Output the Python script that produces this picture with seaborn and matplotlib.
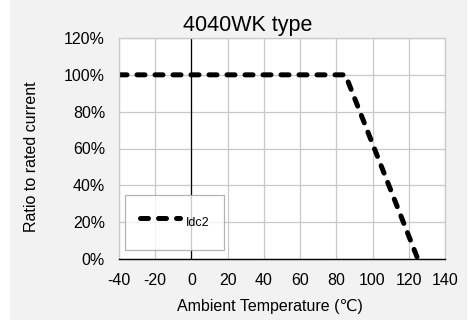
import matplotlib
matplotlib.use("Agg")
import matplotlib.pyplot as plt
import seaborn as sns
import pandas as pd
from matplotlib.patches import Rectangle
from matplotlib.ticker import PercentFormatter

temps = [-40, 85, 125]
ratios = [1.0, 1.0, 0.0]
series = ["Idc2", "Idc2", "Idc2"]
xticks = [-40, -20, 0, 20, 40, 60, 80, 100, 120, 140]
yticks = [0, 0.2, 0.4, 0.6, 0.8, 1.0, 1.2]

sns.set_theme(style="white")
plt.rcParams['font.family'] = ['Liberation Sans', 'DejaVu Sans']
plt.rcParams['axes.unicode_minus'] = False
plt.rcParams['text.color'] = 'black'
plt.rcParams['axes.labelcolor'] = 'black'

df = pd.DataFrame({"temp": temps, "ratio": ratios, "series": series})

W, H = 476, 320
fig = plt.figure(figsize=(W/100, H/100), dpi=100, facecolor="white")
fig.patches.append(Rectangle((10/W, 0), 457/W, 1, transform=fig.transFigure,
                             facecolor="#f2f2f2", edgecolor="none", zorder=-10))
ax_l, ax_r, ax_t, ax_b = 119, 445, 38, 259
ax = fig.add_axes([ax_l/W, 1 - ax_b/H, (ax_r-ax_l)/W, (ax_b-ax_t)/H])
ax.set_facecolor("white")

sns.lineplot(data=df, x="temp", y="ratio", hue="series", palette=["black"],
             ax=ax, linewidth=3.6, legend=True)
DASH = (1.6, 2.0)
line = ax.get_lines()[0]
line.set_dashes(DASH)
line.set_dash_capstyle("round")

ax.set_xlim(-40, 140)
ax.set_ylim(0, 1.2)
ax.set_xticks(xticks)
ax.set_yticks(yticks)
ax.yaxis.set_major_formatter(PercentFormatter(1.0, decimals=0))
ax.grid(True, color="#c8c8c8", linewidth=0.9)
ax.set_axisbelow(True)
ax.axvline(0, color="black", linewidth=0.9, zorder=1)
for s in ["top", "right", "left"]:
    ax.spines[s].set_color("#c8c8c8")
    ax.spines[s].set_linewidth(0.9)
ax.spines["bottom"].set_color("black")
ax.spines["bottom"].set_linewidth(1.0)
ax.tick_params(axis="both", labelsize=11.5, length=0, pad=10, colors="black")

fig.text(248/W, 1 - 31/H, "4040WK type", fontsize=15.5, ha="center", va="baseline")
ax.set_xlabel("Ambient Temperature (\u2103)", fontsize=11.5)
ax.xaxis.set_label_coords((270 - ax_l)/(ax_r - ax_l), (ax_b - 307)/(ax_b - ax_t))
ax.xaxis.label.set_va("center")
ax.set_ylabel("Ratio to rated current", fontsize=11.5)
ax.yaxis.set_label_coords((32 - ax_l)/(ax_r - ax_l), (ax_b - 157)/(ax_b - ax_t))
ax.yaxis.label.set_va("center")

leg = ax.legend(loc="lower left", bbox_to_anchor=((125-ax_l)/(ax_r-ax_l), (ax_b-250)/(ax_b-ax_t)),
                frameon=True, fancybox=False, fontsize=9, handlelength=3.2,
                handleheight=2.7, handletextpad=0.45, borderpad=1.2, borderaxespad=0)
leg.get_frame().set_edgecolor("#a0a0a0")
leg.get_frame().set_linewidth(0.9)
leg.get_frame().set_facecolor("white")
for h in leg.get_lines():
    h.set_dashes(DASH)
    h.set_dash_capstyle("round")
    h.set_linewidth(3.6)

fig.savefig("out.png", dpi=100, facecolor="white")
